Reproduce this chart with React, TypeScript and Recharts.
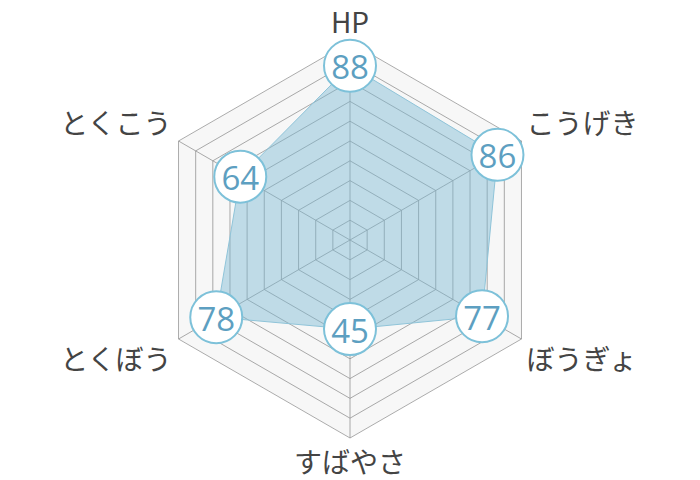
import { RadarChart, Radar, PolarGrid, PolarAngleAxis, PolarRadiusAxis } from "recharts";

const stats = ["HP", "こうげき", "ぼうぎょ", "すばやさ", "とくぼう", "とくこう"];
const values = [88, 86, 77, 45, 78, 64];
const maxValues = [100, 100, 100, 100, 100, 100];
const ringTicks = [10, 20, 30, 40, 50, 60, 70, 80, 90, 100];

const data = stats.map((stat, i) => ({ stat, value: values[i], max: maxValues[i] }));

const CX = 350;
const CY = 240;
const R = 198;

function StatTick(props: any) {
  const { payload, index } = props;
  const angle = (90 - index * 60) * (Math.PI / 180);
  const cos = Math.cos(angle);
  const sin = Math.sin(angle);
  let x = CX + R * cos;
  let y = CY - R * sin;
  let anchor: "start" | "middle" | "end" = "middle";
  if (cos > 0.01) {
    anchor = "start";
    x += 5;
  } else if (cos < -0.01) {
    anchor = "end";
    x -= 7;
  }
  if (Math.abs(cos) < 0.01) {
    y += sin > 0 ? -21 : 23;
  } else {
    y += sin > 0 ? -19 : 19;
  }
  return (
    <text
      x={x}
      y={y}
      textAnchor={anchor}
      dominantBaseline="central"
      fontSize={28}
      fill="#444"
      fontFamily="'Noto Sans CJK JP', sans-serif"
    >
      {payload.value}
    </text>
  );
}

function ValueBadge(props: any) {
  const { cx, cy, payload } = props;
  return (
    <g>
      <circle cx={cx} cy={cy} r={26} fill="#fff" stroke="#7dc1d9" strokeWidth={2} />
      <text
        x={cx}
        y={cy + 1}
        textAnchor="middle"
        dominantBaseline="central"
        fontSize={33}
        fill="#5d9fc1"
        fontFamily="'Open Sans', sans-serif"
      >
        {payload.value}
      </text>
    </g>
  );
}

export default function App() {
  return (
    <div style={{ position: "absolute", left: 0, top: 0, width: 700, height: 480, background: "#fff" }}>
      <RadarChart width={700} height={480} data={data} cx={CX} cy={CY} outerRadius={R} margin={{ top: 0, right: 0, bottom: 0, left: 0 }}>
        <PolarGrid gridType="polygon" stroke="#999" strokeWidth={0.8} polarRadius={ringTicks.map((t) => (t / 100) * R)} />
        <PolarRadiusAxis domain={[0, 100]} ticks={ringTicks as any} tick={false} axisLine={false} />
        <PolarAngleAxis dataKey="stat" tick={<StatTick />} tickLine={false} axisLine={false} />
        <Radar dataKey="max" fill="#000" fillOpacity={0.03} stroke="none" isAnimationActive={false} />
        <Radar
          dataKey="value"
          fill="#7ab8d2"
          fillOpacity={0.45}
          stroke="#8fc4d9"
          strokeWidth={1}
          dot={(p: any) => <ValueBadge key={p.index} {...p} />}
          isAnimationActive={false}
        />
      </RadarChart>
    </div>
  );
}
